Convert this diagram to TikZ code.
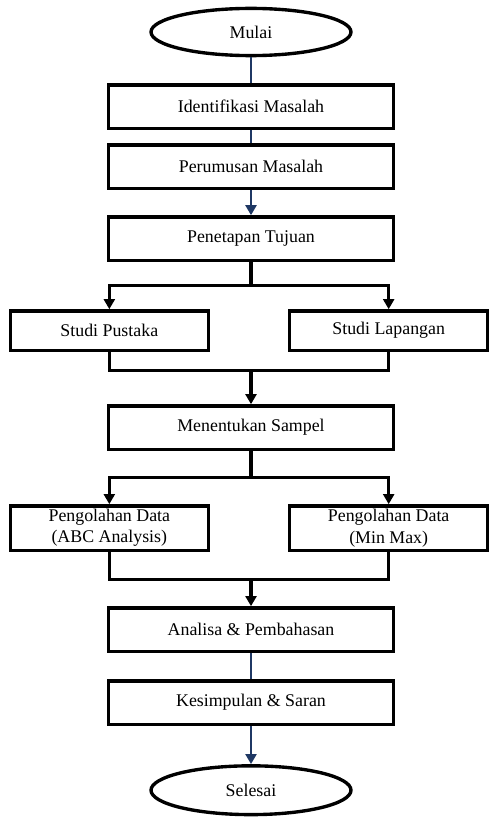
\documentclass[tikz,border=0pt]{standalone}
\usepackage{fontspec}
\setmainfont{Liberation Serif}
\usetikzlibrary{arrows.meta,positioning,shapes.geometric}
\definecolor{NavyLine}{RGB}{31,56,100}
\tikzset{
  terminal/.style={draw, ellipse, line width=2.4pt, minimum width=5.0cm,
    minimum height=1.18cm, font=\fontsize{12.7}{15}\selectfont},
  process/.style={draw, rectangle, line width=2.4pt, minimum width=7.115cm,
    minimum height=1.09cm, align=center, font=\fontsize{12.7}{15}\selectfont},
  sidebox/.style={draw, rectangle, line width=2.4pt, minimum width=4.95cm,
    minimum height=0.99cm, inner ysep=1pt, align=center,
    font=\fontsize{12.7}{15}\selectfont},
  link/.style={line width=2.4pt, black},
  arrow/.style={link, -{Triangle[length=2.5mm,width=2.7mm]}},
  bluelink/.style={line width=2.1pt, NavyLine},
  bluearrow/.style={bluelink, -{Triangle[length=2.5mm,width=2.7mm]}}
}
\begin{document}
\begin{tikzpicture}[node distance=0.65cm]
  \useasboundingbox (0,0) rectangle (12.2,-20.525);
  \node[terminal] (mulai) at (6.275,-0.8) {Mulai};
  \node[process, below=0.65cm of mulai] (identifikasi) {Identifikasi Masalah};
  \node[process, below=0.325cm of identifikasi] (perumusan) {Perumusan Masalah};
  \node[process, below=0.625cm of perumusan] (penetapan) {Penetapan Tujuan};

  \node[sidebox, below left=1.175cm and -2.575cm of penetapan] (pustaka) {Studi Pustaka};
  \node[sidebox, below right=1.175cm and -2.675cm of penetapan] (lapangan) {Studi Lapangan};

  \node[process, below=3.55cm of penetapan] (sampel) {Menentukan Sampel};

  \node[sidebox, minimum height=1.115cm, below left=1.325cm and -2.575cm of sampel] (abc)
    {Pengolahan Data\\(ABC Analysis)};
  \node[sidebox, minimum height=1.115cm, below right=1.325cm and -2.675cm of sampel] (minmax)
    {Pengolahan Data\\(Min Max)};

  \node[process, below=3.875cm of sampel] (analisa) {Analisa \& Pembahasan};
  \node[process, below=0.65cm of analisa] (kesimpulan) {Kesimpulan \& Saran};
  \node[terminal, minimum height=1.22cm, below=0.95cm of kesimpulan] (selesai) {Selesai};

  \coordinate[below=0.575cm of penetapan] (split1);
  \coordinate[above=0.85cm of sampel] (merge1);
  \coordinate[below=0.65cm of sampel] (split2);
  \coordinate[above=0.675cm of analisa] (merge2);

  \draw[bluelink] (mulai) -- (identifikasi);
  \draw[bluelink] (identifikasi) -- (perumusan);
  \draw[bluearrow] (perumusan) -- (penetapan);

  \draw[link] (penetapan) -- (split1);
  \draw[arrow] (split1) -| (pustaka);
  \draw[arrow] (split1) -| (lapangan);
  \draw[link] (pustaka) |- (merge1) -| (lapangan);
  \draw[arrow] (merge1) -- (sampel);

  \draw[link] (sampel) -- (split2);
  \draw[arrow] (split2) -| (abc);
  \draw[arrow] (split2) -| (minmax);
  \draw[link] (abc) |- (merge2) -| (minmax);
  \draw[arrow] (merge2) -- (analisa);

  \draw[bluelink] (analisa) -- (kesimpulan);
  \draw[bluearrow] (kesimpulan) -- (selesai);
\end{tikzpicture}
\end{document}
